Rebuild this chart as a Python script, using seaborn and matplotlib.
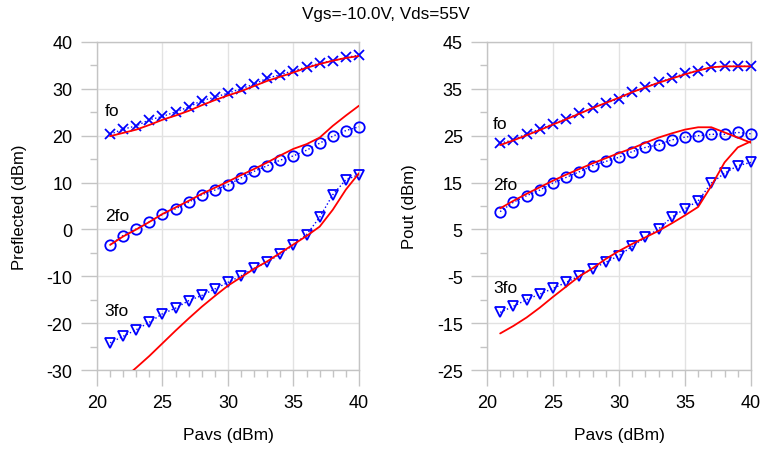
import numpy as np
import pandas as pd
import seaborn as sns
import matplotlib.pyplot as plt

# Pavs sweep (dBm)
pavs = list(range(21, 41))

# Preflected (dBm) - measured (blue markers) and simulated (red lines)
refl_fo_meas = [20.3, 21.4, 22.1, 23.4, 24.1, 25.1, 26.1, 27.5, 28.2, 29.1,
                30.0, 31.0, 32.3, 33.0, 33.9, 34.6, 35.5, 36.0, 36.7, 37.2]
refl_2fo_meas = [-3.3, -1.3, 0.1, 1.6, 3.2, 4.4, 5.8, 7.4, 8.4, 9.5,
                 11.0, 12.4, 13.6, 14.8, 15.7, 16.9, 18.4, 19.9, 21.1, 21.9]
refl_3fo_meas = [-24.2, -22.8, -21.4, -19.8, -18.0, -16.8, -15.2, -14.1, -12.7, -11.3,
                 -9.9, -8.3, -7.0, -5.2, -3.3, -1.1, 2.6, 7.4, 10.6, 11.7]
refl_fo_sim = [19.9, 20.6, 21.3, 22.3, 23.4, 24.3, 25.3, 26.5, 27.6, 28.6,
               29.5, 30.6, 31.7, 32.6, 33.5, 34.5, 35.3, 36.0, 36.6, 37.0]
refl_2fo_sim = [-3.3, -1.5, 0.0, 1.6, 3.3, 4.7, 6.1, 7.6, 8.9, 10.2,
                11.6, 12.9, 14.3, 15.8, 17.2, 18.2, 19.6, 22.1, 24.3, 26.4]
refl_3fo_sim = [-34.5, -31.9, -29.5, -27.0, -24.3, -21.6, -19.0, -16.5, -14.2, -12.0,
                -10.2, -8.4, -6.8, -5.0, -3.2, -1.4, 0.6, 4.2, 8.5, 12.0]

# Pout (dBm)
pout_fo_meas = [23.4, 24.1, 25.4, 26.4, 27.5, 28.6, 29.8, 30.9, 32.0, 32.8,
                34.3, 35.3, 36.4, 37.3, 38.3, 38.9, 39.6, 39.8, 39.8, 39.8]
pout_2fo_meas = [8.8, 10.8, 12.2, 13.4, 14.9, 16.1, 17.3, 18.6, 19.5, 20.4,
                 21.6, 22.5, 23.1, 24.1, 24.7, 25.0, 25.3, 25.3, 25.7, 25.4]
pout_3fo_meas = [-12.7, -11.4, -10.0, -8.8, -7.6, -6.3, -4.9, -3.4, -2.0, -0.6,
                 1.4, 3.3, 5.1, 7.6, 9.4, 11.1, 14.9, 17.0, 18.6, 19.3]
pout_fo_sim = [23.0, 24.0, 25.1, 26.2, 27.4, 28.5, 29.7, 30.9, 32.0, 33.1,
               34.3, 35.3, 36.3, 37.2, 38.1, 38.9, 39.6, 39.8, 39.8, 39.8]
pout_2fo_sim = [9.5, 11.1, 12.6, 14.0, 15.4, 16.7, 17.9, 19.1, 20.2, 21.3,
                22.3, 23.5, 24.6, 25.5, 26.3, 26.8, 26.8, 25.7, 24.6, 23.5]
pout_3fo_sim = [-17.2, -15.6, -13.8, -11.7, -9.4, -7.2, -5.0, -3.3, -1.3, 0.4,
                1.9, 3.3, 4.7, 6.3, 8.0, 9.8, 14.3, 19.3, 22.5, 23.8]

harmonics = ['fo', '2fo', '3fo']
markers = ['x', 'o', 'v']

sns.set_style('white')
plt.rcParams['font.family'] = ['Liberation Sans', 'DejaVu Sans']
plt.rcParams['axes.unicode_minus'] = False
plt.rcParams['text.color'] = 'black'
plt.rcParams['axes.labelcolor'] = 'black'
plt.rcParams['xtick.color'] = 'black'
plt.rcParams['ytick.color'] = 'black'

fig = plt.figure(figsize=(7.71, 4.52), dpi=100)
ax1 = fig.add_axes([0.1258, 0.1792, 0.3398, 0.7257])
ax2 = fig.add_axes([0.6316, 0.1792, 0.3424, 0.7257])

panels = [
    (ax1, [refl_fo_meas, refl_2fo_meas, refl_3fo_meas],
     [refl_fo_sim, refl_2fo_sim, refl_3fo_sim],
     'Preflected (dBm)', (-30, 40), list(range(-30, 41, 10)),
     [(20.6, 25.3), (20.6, 2.9), (20.6, -17.2)]),
    (ax2, [pout_fo_meas, pout_2fo_meas, pout_3fo_meas],
     [pout_fo_sim, pout_2fo_sim, pout_3fo_sim],
     'Pout (dBm)', (-25, 45), list(range(-25, 46, 10)),
     [(20.45, 27.7), (20.45, 14.5), (20.45, -7.5)]),
]

for ax, meas, sim, ylabel, ylim, yticks, label_pos in panels:
    for name, mk, m, s, (tx, ty) in zip(harmonics, markers, meas, sim, label_pos):
        df = pd.DataFrame({'Pavs': pavs, 'meas': m, 'sim': s})
        sns.lineplot(data=df, x='Pavs', y='meas', ax=ax, color='blue',
                     linestyle=':', linewidth=1.0, marker=mk, markersize=7.5,
                     markerfacecolor='none', markeredgecolor='blue',
                     markeredgewidth=1.3, zorder=3, clip_on=False)
        sns.lineplot(data=df, x='Pavs', y='sim', ax=ax, color='red',
                     linewidth=1.3, zorder=4)
        ax.text(tx, ty, name, fontsize=12.5, ha='left', va='center')

    ax.set_xlim(20, 40)
    ax.set_ylim(*ylim)
    ax.set_xticks([20, 25, 30, 35, 40])
    ax.set_xticks(range(20, 41), minor=True)
    ax.set_yticks(yticks)
    ax.set_yticks(range(ylim[0], ylim[1] + 1, 5), minor=True)
    ax.grid(True, which='major', color='#e2e2e2', linewidth=1.0)
    for sp in ax.spines.values():
        sp.set_color('#c4c4c4')
        sp.set_linewidth(1.0)
    ax.tick_params(which='major', direction='out', length=11.5, width=1.0,
                   color='#c4c4c4', labelcolor='black', labelsize=13, pad=6,
                   left=True, bottom=True)
    ax.tick_params(which='minor', direction='out', length=5, width=1.0,
                   color='#c4c4c4', left=True, bottom=True)
    ax.set_xlabel('Pavs (dBm)', fontsize=12.5, labelpad=11)
    ax.set_ylabel(ylabel, fontsize=12, labelpad=14)

fig.suptitle('Vgs=-10.0V, Vds=55V', fontsize=12.3, x=0.5, y=0.985)

plt.savefig('out.png', dpi=100)
